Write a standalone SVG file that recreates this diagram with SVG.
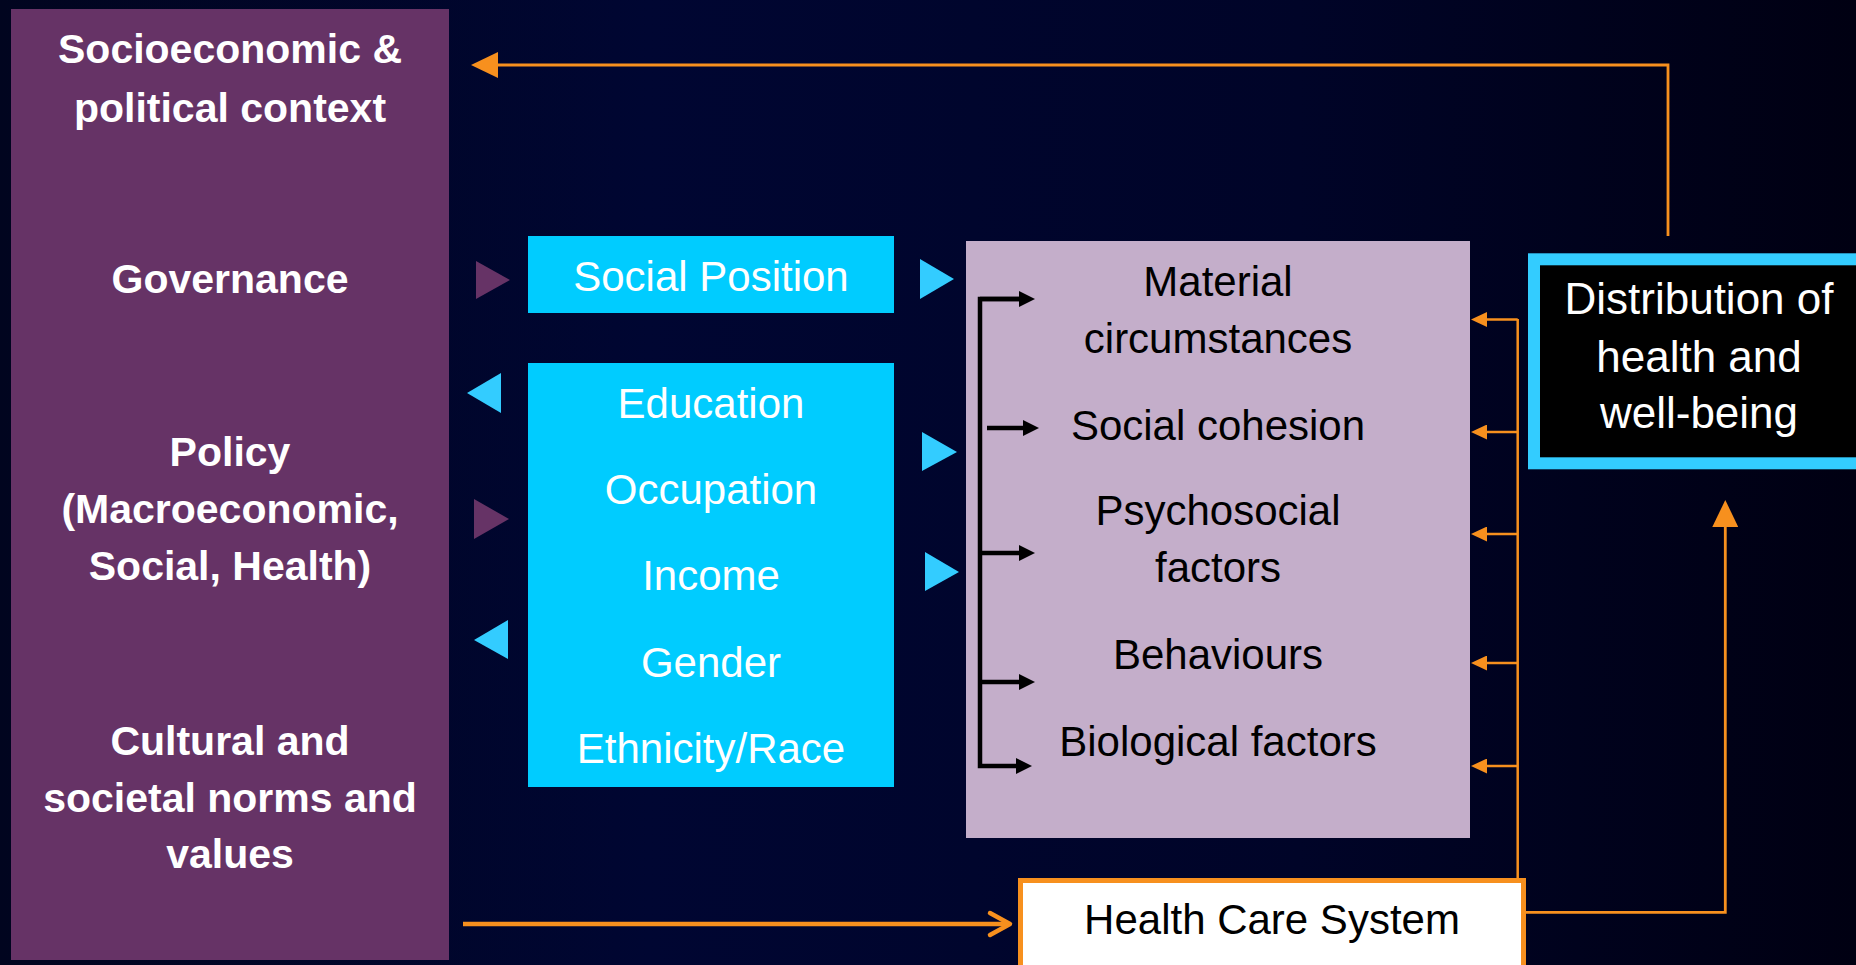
<svg xmlns="http://www.w3.org/2000/svg" width="1856" height="965" viewBox="0 0 1856 965">
  <defs>
    <linearGradient id="bg" x1="0" y1="0" x2="1" y2="0">
      <stop offset="0" stop-color="#01051f"/>
      <stop offset="0.35" stop-color="#000632"/>
      <stop offset="0.7" stop-color="#000428"/>
      <stop offset="1" stop-color="#000012"/>
    </linearGradient>
    <marker id="blk" markerUnits="userSpaceOnUse" viewBox="0 0 16 16" markerWidth="16" markerHeight="16" refX="1" refY="8" orient="auto">
      <path d="M0,0 L16,8 L0,16 Z" fill="#000"/>
    </marker>
    <marker id="org" markerUnits="userSpaceOnUse" viewBox="0 0 16 15" markerWidth="16" markerHeight="15" refX="1" refY="7.5" orient="auto">
      <path d="M0,0 L16,7.5 L0,15 Z" fill="#f7901e"/>
    </marker>
    <marker id="orgBig" markerUnits="userSpaceOnUse" viewBox="0 0 27 26" markerWidth="27" markerHeight="26" refX="1" refY="13" orient="auto">
      <path d="M0,0 L27,13 L0,26 Z" fill="#f7901e"/>
    </marker>
  </defs>
  <style>
    .bold { font-family: "Liberation Sans", Arial, sans-serif; font-weight: bold; font-size: 41px; fill: #ffffff; text-anchor: middle; }
    .wt { font-family: "Liberation Sans", Arial, sans-serif; font-size: 42px; fill: #ffffff; text-anchor: middle; }
    .bk { font-family: "Liberation Sans", Arial, sans-serif; font-size: 42px; fill: #000000; text-anchor: middle; }
    .ol { stroke: #f7901e; fill: none; }
    .bl { stroke: #000; stroke-width: 4.5; fill: none; }
    .tp { fill: #663366; }
    .tb { fill: #33ccff; }
  </style>

  <rect x="0" y="0" width="1856" height="965" fill="url(#bg)"/>

  <g id="context">
    <rect x="11" y="9" width="438" height="951" fill="#663366"/>
    <text class="bold" x="230" y="63">Socioeconomic &amp;</text>
    <text class="bold" x="230" y="122">political context</text>
    <text class="bold" x="230" y="293">Governance</text>
    <text class="bold" x="230" y="466">Policy</text>
    <text class="bold" x="230" y="523">(Macroeconomic,</text>
    <text class="bold" x="230" y="580">Social, Health)</text>
    <text class="bold" x="230" y="755">Cultural and</text>
    <text class="bold" x="230" y="812">societal norms and</text>
    <text class="bold" x="230" y="868">values</text>
  </g>

  <g id="social-position">
    <rect x="528" y="236" width="366" height="77" fill="#00ccff"/>
    <text class="wt" x="711" y="291">Social Position</text>
  </g>

  <g id="stratifiers">
    <rect x="528" y="363" width="366" height="424" fill="#00ccff"/>
    <text class="wt" x="711" y="418">Education</text>
    <text class="wt" x="711" y="504">Occupation</text>
    <text class="wt" x="711" y="590">Income</text>
    <text class="wt" x="711" y="677">Gender</text>
    <text class="wt" x="711" y="763">Ethnicity/Race</text>
  </g>

  <g id="intermediary">
    <rect x="966" y="241" width="504" height="597" fill="#c4aeca"/>
    <text class="bk" x="1218" y="296">Material</text>
    <text class="bk" x="1218" y="353">circumstances</text>
    <text class="bk" x="1218" y="440">Social cohesion</text>
    <text class="bk" x="1218" y="525">Psychosocial</text>
    <text class="bk" x="1218" y="582">factors</text>
    <text class="bk" x="1218" y="669">Behaviours</text>
    <text class="bk" x="1218" y="756">Biological factors</text>
  </g>

  <g id="distribution">
    <rect x="1534" y="259.3" width="340" height="204" fill="#000" stroke="#33ccff" stroke-width="12"/>
    <text class="wt" x="1699" y="314" style="font-size:44px">Distribution of</text>
    <text class="wt" x="1699" y="372" style="font-size:44px">health and</text>
    <text class="wt" x="1699" y="428" style="font-size:44px">well-being</text>
  </g>

  <g id="health-care">
    <rect x="1020.5" y="880.5" width="503" height="100" fill="#ffffff" stroke="#f7901e" stroke-width="5"/>
    <text class="bk" x="1272" y="934">Health Care System</text>
  </g>

  <g id="connectors">
    <!-- triangles between columns -->
    <polygon class="tp" points="476,261 510,280 476,299"/>
    <polygon class="tp" points="474,499 509,519 474,539"/>
    <polygon class="tb" points="467,393 501,373 501,413"/>
    <polygon class="tb" points="474,640 508,620 508,659"/>
    <polygon class="tb" points="920,259 954,279 920,299"/>
    <polygon class="tb" points="922,432 957,452 922,471"/>
    <polygon class="tb" points="925,552 959,572 925,591"/>

    <!-- black bracket arrows -->
    <path class="bl" d="M1020,299 H980 V766 H1017" marker-end="url(#blk)"/>
    <line class="bl" x1="980" y1="299" x2="1020" y2="299" marker-end="url(#blk)"/>
    <line class="bl" x1="987" y1="428" x2="1024" y2="428" marker-end="url(#blk)"/>
    <line class="bl" x1="980" y1="553" x2="1020" y2="553" marker-end="url(#blk)"/>
    <line class="bl" x1="980" y1="682" x2="1020" y2="682" marker-end="url(#blk)"/>

    <!-- feedback to context -->
    <path class="ol" stroke-width="2.8" d="M1668,236 V65 H497" marker-end="url(#orgBig)"/>

    <!-- health care system to intermediary determinants -->
    <line class="ol" stroke-width="2.5" x1="1517.7" y1="319" x2="1517.7" y2="879"/>
    <line class="ol" stroke-width="2.5" x1="1517.7" y1="319.5" x2="1486" y2="319.5" marker-end="url(#org)"/>
    <line class="ol" stroke-width="2.5" x1="1517.7" y1="432" x2="1486" y2="432" marker-end="url(#org)"/>
    <line class="ol" stroke-width="2.5" x1="1517.7" y1="534" x2="1486" y2="534" marker-end="url(#org)"/>
    <line class="ol" stroke-width="2.5" x1="1517.7" y1="663" x2="1486" y2="663" marker-end="url(#org)"/>
    <line class="ol" stroke-width="2.5" x1="1517.7" y1="766" x2="1486" y2="766" marker-end="url(#org)"/>

    <!-- health care system to distribution -->
    <path class="ol" stroke-width="2.8" d="M1526,912.3 H1725.3 V526" marker-end="url(#orgBig)"/>

    <!-- context to health care system -->
    <line class="ol" stroke-width="4.5" x1="463" y1="924" x2="1009" y2="924"/>
    <polyline class="ol" stroke-width="4.5" stroke-linecap="round" stroke-linejoin="round" points="990,913 1010,924 990,935"/>
  </g>
</svg>
